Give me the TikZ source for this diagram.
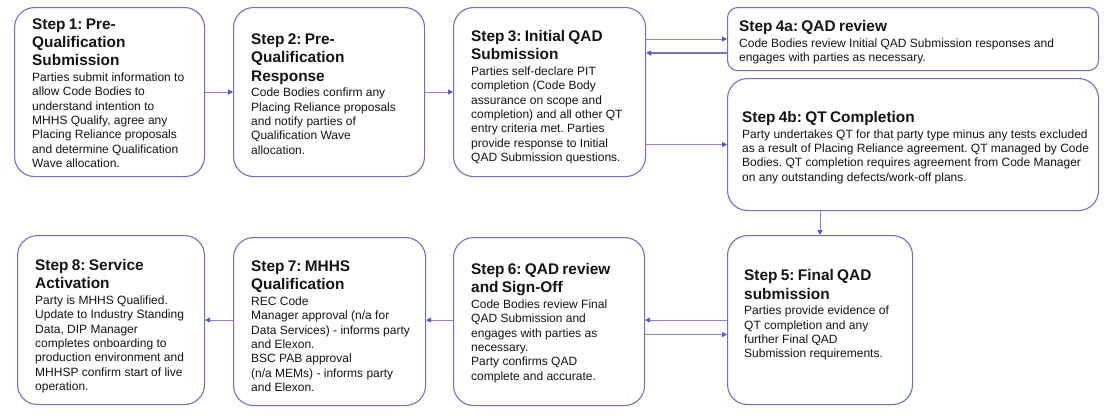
\documentclass[tikz,border=0pt]{standalone}
\usepackage{fontspec}
\setmainfont{Liberation Sans}
\usetikzlibrary{arrows.meta}
\definecolor{bcol}{RGB}{112,112,198}
\definecolor{acol}{RGB}{135,135,218}
\definecolor{hcol}{RGB}{85,85,215}
\definecolor{rcol}{RGB}{118,118,185}
\definecolor{tcol}{RGB}{20,20,20}
\newcommand\ttlfont{\fontsize{15.4}{18.3}\selectfont\bfseries}
\newcommand\bodyfont{\fontsize{12}{14.3}\selectfont}
\newcommand\stp[2]{{\ttlfont #1\par}\vspace{1.5pt}{\bodyfont #2\par}}
\begin{document}
\begin{tikzpicture}[x=1pt,y=-1pt,
  stepbox/.style={draw=bcol, line width=1.1pt, rounded corners=20pt, fill=white,
    inner sep=0pt, anchor=north west},
  txt/.style={inner sep=0pt, align=left, anchor=west, text=tcol, text width=#1,
    font=\frenchspacing},
  txt/.default=185pt,
  arr/.style={draw=acol, line width=0.8pt, -{Triangle[length=5pt,width=5pt,fill=hcol,color=hcol]}},
  backarr/.style={arr, draw=rcol, line width=1.3pt}]
\useasboundingbox[fill=white] (0,0) rectangle (1110,415);

% boxes
\node[stepbox, minimum width=190pt, minimum height=169pt] (b1) at (14,7) {};
\node[stepbox, minimum width=191pt, minimum height=169pt] (b2) at (233,7) {};
\node[stepbox, minimum width=192pt, minimum height=169pt] (b3) at (453,7) {};
\node[stepbox, rounded corners=10pt, minimum width=371pt, minimum height=63pt] (b4a) at (727,7) {};
\node[stepbox, minimum width=371pt, minimum height=132pt] (b4b) at (727,78) {};
\node[stepbox, minimum width=185pt, minimum height=169pt] (b5) at (727,235) {};
\node[stepbox, minimum width=191pt, minimum height=168pt] (b6) at (453,237) {};
\node[stepbox, minimum width=192pt, minimum height=168pt] (b7) at (233,237) {};
\node[stepbox, minimum width=187pt, minimum height=169pt] (b8) at (17,235) {};

% texts
\node[txt] (t1) at ([xshift=18pt,yshift=-1pt]b1.west)
  {\stp{Step 1: Pre-\\Qualification\\Submission}{Parties submit information to\\allow Code Bodies to\\understand intention to\\MHHS Qualify, agree any\\Placing Reliance proposals\\and determine Qualification\\Wave allocation.}};
\node[txt] (t2) at ([xshift=18pt,yshift=-2pt]b2.west)
  {\stp{Step 2: Pre-\\Qualification\\Response}{Code Bodies confirm any\\Placing Reliance proposals\\and notify parties of\\Qualification Wave\\allocation.}};
\node[txt] (t3) at ([xshift=18pt,yshift=-5pt]b3.west)
  {\stp{Step 3: Initial QAD\\Submission}{Parties self-declare PIT\\completion (Code Body\\assurance on scope and\\completion) and all other QT\\entry criteria met. Parties\\provide response to Initial\\QAD Submission questions.}};
\node[txt=360pt] (t4a) at ([xshift=12pt,yshift=-3pt]b4a.west)
  {\stp{Step 4a: QAD review}{Code Bodies review Initial QAD Submission responses and\\engages with parties as necessary.}};
\node[txt=360pt] (t4b) at ([xshift=15pt,yshift=-3pt]b4b.west)
  {\stp{Step 4b: QT Completion}{Party undertakes QT for that party type minus any tests excluded\\as a result of Placing Reliance agreement. QT managed by Code\\Bodies. QT completion requires agreement from Code Manager\\on any outstanding defects/work-off plans.}};
\node[txt] (t5) at ([xshift=17pt,yshift=5pt]b5.west)
  {\stp{Step 5: Final QAD\\submission}{Parties provide evidence of\\QT completion and any\\further Final QAD\\Submission requirements.}};
\node[txt] (t6) at ([xshift=18pt,yshift=-1.5pt]b6.west)
  {\stp{Step 6: QAD review\\and Sign-Off}{Code Bodies review Final\\QAD Submission and\\engages with parties as\\necessary.\\Party confirms QAD\\complete and accurate.}};
\node[txt] (t7) at ([xshift=18pt,yshift=-4.5pt]b7.west)
  {\stp{Step 7: MHHS\\Qualification}{REC Code\\Manager approval (n/a for\\Data Services) - informs party\\and Elexon.\\BSC PAB approval\\(n/a MEMs) - informs party\\and Elexon.}};
\node[txt] (t8) at ([xshift=18pt,yshift=-6pt]b8.west)
  {\stp{Step 8: Service\\Activation}{Party is MHHS Qualified.\\Update to Industry Standing\\Data, DIP Manager\\completes onboarding to\\production environment and\\MHHSP confirm start of live\\operation.}};

% connectors
\draw[arr] (b1.east) -- (b2.west);
\draw[arr] (b2.east) -- (b3.west);
\draw[arr] (b3.east |- b4a.west) -- (b4a.west);
\coordinate (r4a) at ([yshift=-14pt]b4a.west);
\draw[backarr] (r4a) -- (b3.east |- r4a);
\draw[arr] (b3.east |- b4b.west) -- (b4b.west);
\draw[arr] (b4b.south -| b5.north) -- (b5.north);
\draw[arr] (b5.west) -- (b6.east |- b5.west);
\coordinate (r6) at ([yshift=-13pt]b6.east);
\draw[arr] (r6) -- (b5.west |- r6);
\draw[arr] (b6.west |- b5.west) -- (b7.east |- b5.west);
\draw[arr] (b7.west |- b5.west) -- (b8.east |- b5.west);
\end{tikzpicture}
\end{document}
